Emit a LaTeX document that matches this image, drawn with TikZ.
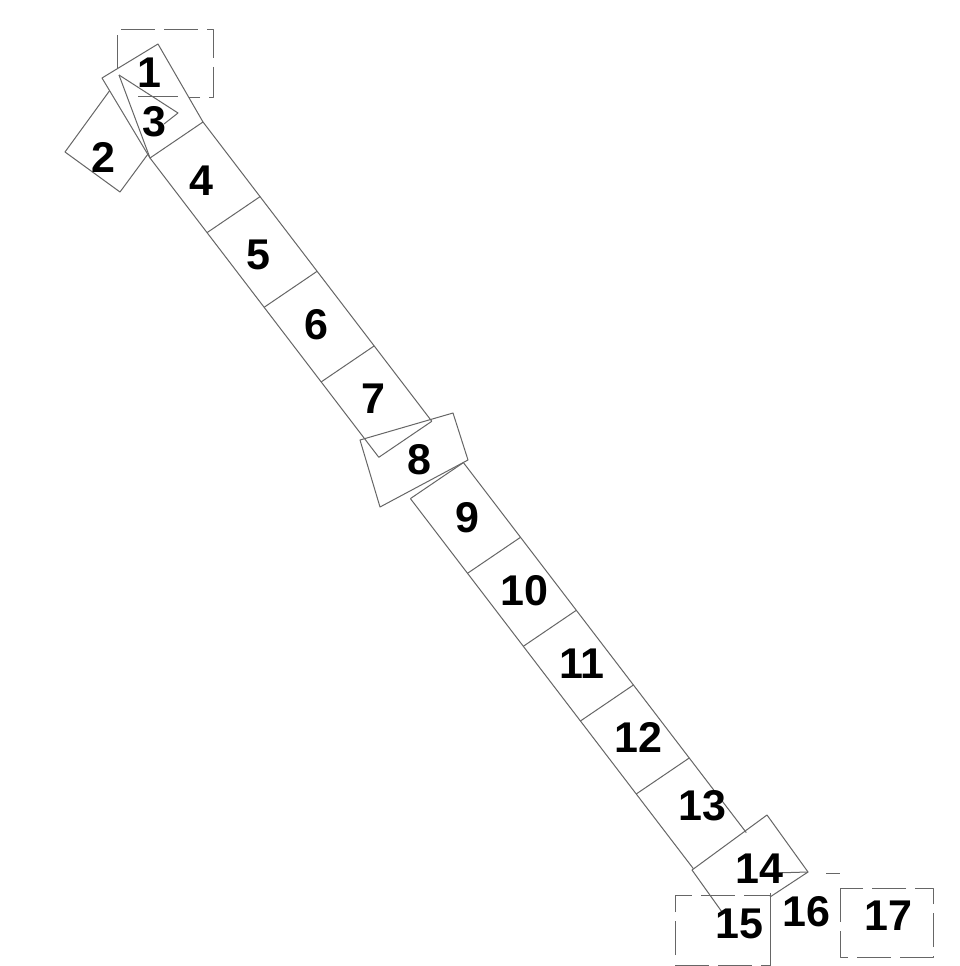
\documentclass[tikz,border=0pt]{standalone}
\usepackage{fontspec}
\setmainfont{Liberation Sans}
\begin{document}
\begin{tikzpicture}[x=1pt,y=-1pt,line join=round]
\tikzset{
  edge/.style={draw=black!60,line width=1pt},
  dashedge/.style={draw=black!60,line width=1pt,dash pattern=on 34pt off 9pt},
  lab/.style={font=\fontsize{43}{43}\selectfont\bfseries,inner sep=0pt,text=black}
}
\useasboundingbox (0,0) rectangle (959,966);
\fill[white] (0,0) rectangle (959,966);

% dashed square behind 1
\draw[dashedge] (117,69) -- (117,30) -- (213,30) -- (213,97) -- (189,97);
% box 2 (partly hidden)
\draw[edge] (109.6,90.7) -- (65,152) -- (120,192) -- (148,154);
% box 1/3
\draw[edge,fill=white] (102,78) -- (158,44) -- (203,122) -- (150,158) -- cycle;
\draw[edge] (138,96) -- (178,96);
\draw[edge] (119,75) -- (178,113) -- (164,124);
\draw[edge] (119,75) -- (150,158);

% main strip: left and right edges
\draw[edge] (150,158) -- (378.8,457.3);
\draw[edge] (203,122) -- (431.8,421.3);
\draw[edge] (410.4,498.6) -- (693.3,868.6);
\draw[edge] (463.4,462.6) -- (746.3,832.6);
% cross lines
\draw[edge] (207.1,232.6) -- (260.1,196.6);
\draw[edge] (264.1,307.3) -- (317.1,271.3);
\draw[edge] (321.2,381.9) -- (374.2,345.9);
\draw[edge] (378.8,457.3) -- (431.8,421.3);
\draw[edge] (410.4,498.6) -- (463.4,462.6);
\draw[edge] (467.5,573.3) -- (520.5,537.3);
\draw[edge] (523.3,646.3) -- (576.3,610.3);
\draw[edge] (580.4,721.0) -- (633.4,685.0);
\draw[edge] (636.2,794.0) -- (689.2,758.0);

% box 8
\draw[edge] (360,440) -- (453,413) -- (468,460) -- (380,507) -- cycle;

% box 14 (partly hidden)
\draw[edge] (722,912) -- (692,870) -- (767,815) -- (808,872) -- (770,897);
\draw[edge] (773,873) -- (808,872);

% box 15
\draw[dashedge] (675,955) -- (675,895) -- (770,895);
\draw[dashedge] (675,965) -- (770,965);
\draw[edge] (770,893) -- (770,966);
% stub of box 16
\draw[edge] (826,873) -- (840,873);
% box 17
\draw[dashedge] (840,888) rectangle (933,957);

% labels
\node[lab] (n1) at (149,73) {1};
\node[lab] (n2) at (103,157) {2};
\node[lab] (n3) at (154,122) {3};
\node[lab] (n4) at (201,181) {4};
\node[lab] (n5) at (258,255) {5};
\node[lab] (n6) at (316,325) {6};
\node[lab] (n7) at (373,399) {7};
\node[lab] (n8) at (419,460) {8};
\node[lab] (n9) at (467,518) {9};
\node[lab] (n10) at (524,591) {10};
\node[lab] (n11) at (582,664) {11};
\node[lab] (n12) at (638,737) {12};
\node[lab] (n13) at (702,806) {13};
\node[lab] (n14) at (759,869) {14};
\node[lab] (n15) at (739,924) {15};
\node[lab] (n16) at (806,912) {16};
\node[lab] (n17) at (888,916) {17};
\end{tikzpicture}
\end{document}
